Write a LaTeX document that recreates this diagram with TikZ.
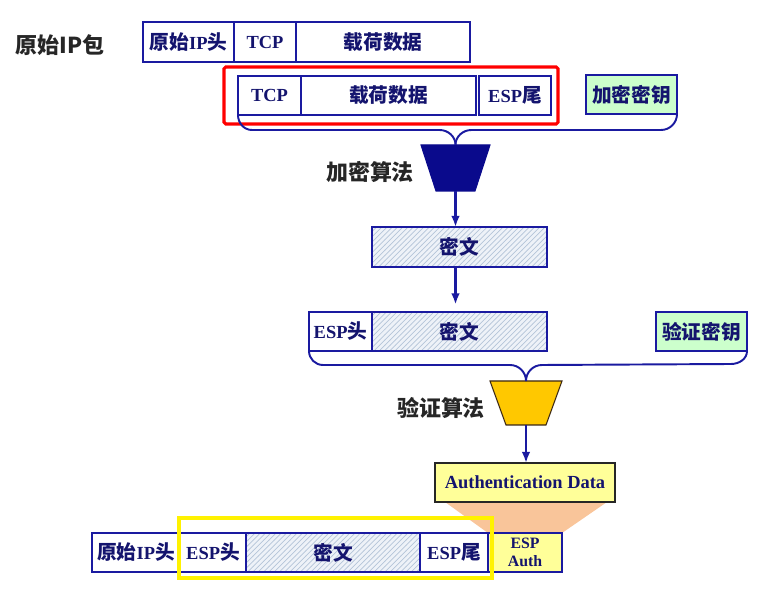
\documentclass[tikz,border=0pt]{standalone}
\usepackage{fontspec}
\usepackage{tikz}
\usepackage{xcolor}
\usetikzlibrary{positioning, arrows.meta, fit, backgrounds, patterns, calc}
\setmainfont{Liberation Serif}
\newfontfamily\cjk{Noto Sans CJK SC}
\newcommand{\zh}[1]{{\cjk\fontsize{11.2}{12}\selectfont #1}}
\definecolor{espBlue}{HTML}{1A1AA0}
\definecolor{espNavy}{HTML}{14146E}
\definecolor{encNavy}{HTML}{0A0A8C}
\definecolor{keyGreen}{HTML}{CCFFCC}
\definecolor{authYellow}{HTML}{FFFF99}
\definecolor{algoGold}{HTML}{FFC800}
\definecolor{authPeach}{HTML}{F9C59A}
\definecolor{hatchBg}{HTML}{EEF2F8}
\definecolor{hatchLine}{HTML}{B4C4D8}

\begin{document}
\begin{tikzpicture}[
      x=0.2mm, y=-0.2mm,
      field/.style={draw=espBlue, line width=1.1pt, outer sep=0pt, inner sep=1pt, align=center,
        text=espNavy, font=\fontsize{10.5}{12}\selectfont\bfseries, minimum height=7.8mm},
      cipher/.style={field, pattern=north east lines, pattern color=hatchLine, preaction={fill=hatchBg}},
      keybox/.style={field, fill=keyGreen, minimum width=18.2mm},
      algo/.style={inner sep=0pt, outer sep=0pt},
      caption/.style={font=\cjk\fontsize{12.5}{14}\selectfont\bfseries, text=black!85},
      brace/.style={draw=espBlue, line width=1.1pt},
      >={Latex[length=2.2mm, width=1.7mm]},
      flow/.style={->, draw=espBlue, line width=1.4pt},
    ]
    \useasboundingbox (0,0) rectangle (760,593);

    \node[caption] (origcap) at (60,45) {原始IP包};
    \node[field, anchor=north west, minimum width=18.2mm, minimum height=8mm] (ip1) at (143,22) {\zh{原始}IP\zh{头}};
    \node[field, right=0pt of ip1, minimum width=12.4mm, minimum height=8mm] (tcp1) {TCP};
    \node[field, right=0pt of tcp1, minimum width=34.8mm, minimum height=8mm] (data1) {\zh{载荷数据}};

    \node[field, anchor=north west, minimum width=12.6mm] (tcp2) at (238,76) {TCP};
    \node[field, right=0pt of tcp2, minimum width=35mm] (data2) {\zh{载荷数据}};
    \node[field, right=0.6mm of data2, minimum width=14.4mm] (tail2) {ESP\zh{尾}};
    \node[keybox, anchor=north west] (enckey) at (586,75) {\zh{加密密钥}};
    \draw[red, line width=1.8pt, rounded corners=1pt] ($(tcp2.north west)+(-14,-9)$) rectangle ($(tail2.south east)+(7,9)$);

    % encryption algorithm: inverted trapezoid
    \node[algo, minimum width=13.8mm, minimum height=9.2mm] (enc) at (455.5,168) {};
    \filldraw[fill=encNavy, draw=encNavy, line width=0.6pt] (enc.north west) -- (enc.north east)
      -- ($(enc.south east)+(-15,0)$) -- ($(enc.south west)+(15,0)$) -- cycle;
    \node[caption] (enccap) at (370,172) {加密算法};
    \draw[brace] (tcp2.south west) to[out=-90, in=180] ++(14,15) -- ($(enc.north)+(-16,-15)$) to[out=0, in=90] (enc.north);
    \draw[brace] (enc.north) to[out=90, in=180] ++(16,-15) -- ($(enckey.south east)+(-16,16)$) to[out=0, in=-90] (enckey.south east);

    \node[cipher, anchor=north west, minimum width=35mm, minimum height=8mm] (cipher1) at (372,227) {\zh{密文}};
    \draw[flow] (enc.south) -- (enc.south |- cipher1.north);

    \node[field, anchor=north west, minimum width=12.6mm] (esph3) at (309,312) {ESP\zh{头}};
    \node[cipher, right=0pt of esph3, minimum width=35mm] (cipher3) {\zh{密文}};
    \node[keybox, anchor=north west] (authkey) at (656,312) {\zh{验证密钥}};
    \draw[flow, shorten >=1.5mm] (enc.south |- cipher1.south) -- (enc.south |- cipher3.north);

    % authentication algorithm
    \node[algo, minimum width=14.4mm, minimum height=8.8mm] (auth) at (526,403) {};
    \filldraw[fill=algoGold, draw=black!70!brown, line width=0.6pt] (auth.north west) -- (auth.north east)
      -- ($(auth.south east)+(-16,0)$) -- ($(auth.south west)+(16,0)$) -- cycle;
    \node[caption] (authcap) at (441,408) {验证算法};
    \draw[brace] (esph3.south west) to[out=-90, in=180] ++(14,14) -- ($(auth.north)+(-16,-16)$) to[out=0, in=90] (auth.north);
    \draw[brace] (auth.north) to[out=90, in=180] ++(16,-16) -- ($(authkey.south east)+(-16,13)$) to[out=0, in=-90] (authkey.south east);

    \node[field, anchor=north west, fill=authYellow, draw=black!85, minimum width=36mm] (authdata) at (435,463) {Authentication Data};
    \draw[flow] (auth.south) -- (auth.south |- authdata.north);

    \node[field, anchor=north west, minimum width=17.6mm] (ip4) at (92,533) {\zh{原始}IP\zh{头}};
    \node[field, right=0pt of ip4, minimum width=13.2mm] (esph4) {ESP\zh{头}};
    \node[cipher, right=0pt of esph4, minimum width=34.8mm] (cipher4) {\zh{密文}};
    \node[field, right=0pt of cipher4, minimum width=13.6mm] (tail4) {ESP\zh{尾}};
    \node[field, right=0pt of tail4, fill=authYellow, minimum width=14.8mm, font=\fontsize{9}{10}\selectfont\bfseries] (espauth) {ESP\\Auth};
    \node[fit=(ip4)(espauth), draw=espBlue, line width=1.6pt, inner sep=0pt] (pkt4) {};

    \begin{scope}[on background layer]
      \fill[authPeach] ($(authdata.south west)+(10,0)$) -- ($(authdata.south east)+(-8,0)$) -- (espauth.north east) -- (espauth.north west) -- cycle;
    \end{scope}
    \draw[yellow, line width=2.3pt] ($(esph4.north west)+(-1,-15)$) rectangle ($(tail4.south east)+(4,6)$);
  \end{tikzpicture}
\end{document}
